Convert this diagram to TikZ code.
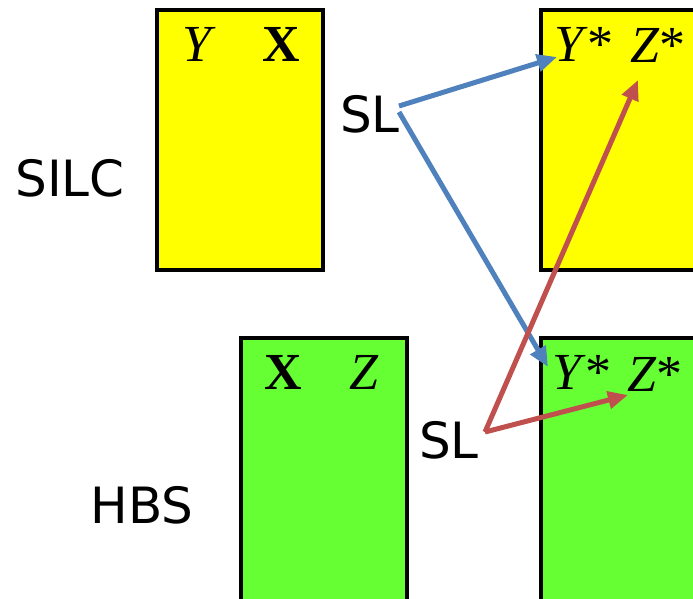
\documentclass[tikz,border=0pt]{standalone}
\usepackage{fontspec}
\setmainfont{Liberation Serif}
\newfontfamily\slfont{DejaVu Sans}
\usetikzlibrary{arrows.meta}
\definecolor{boxyellow}{HTML}{FFFF00}
\definecolor{boxgreen}{HTML}{66FF33}
\definecolor{arrblue}{HTML}{4F81BD}
\definecolor{arrred}{HTML}{C0504D}
\tikzset{
  ybox/.style={draw=black, line width=3.5pt, fill=boxyellow},
  gbox/.style={draw=black, line width=3.5pt, fill=boxgreen},
  vartext/.style={inner sep=0pt, font=\fontsize{52}{52}\selectfont},
  labtext/.style={inner sep=0pt, font=\slfont\fontsize{50}{50}\selectfont},
  conn/.style={line width=5pt, -{Triangle[length=20pt,width=17pt]}},
}
\begin{document}
\begin{tikzpicture}[x=1pt,y=-1pt]
\clip (0,0) rectangle (693,598);
\fill[white] (0,0) rectangle (693,598);
% boxes
\draw[ybox] (157,10) rectangle (323,270);
\draw[ybox] (541,10) rectangle (720,270);
\draw[gbox] (241,338) rectangle (407,620);
\draw[gbox] (541,338) rectangle (720,620);
% box contents
\node[vartext] (y1) at (199,44) {\textit{Y}};
\node[vartext] (x1) at (281,44) {\textbf{X}};
\node[vartext] (ys1) at (584,44) {\textit{Y}*};
\node[vartext] (zs1) at (658,45) {\textit{Z}*};
\node[vartext] (x2) at (283,372) {\textbf{X}};
\node[vartext] (z2) at (364,372) {\textit{Z}};
\node[vartext] (ys2) at (582,372) {\textit{Y}*};
\node[vartext] (zs2) at (655,374) {\textit{Z}*};
% labels
\node[labtext] (silc) at (70,178) {SILC};
\node[labtext] (hbs) at (142,505) {HBS};
\node[labtext] (sl1) at (370,114) {SL};
\node[labtext] (sl2) at (449,440) {SL};
% arrow endpoints
\coordinate (b1s) at (399,106);
\coordinate (b2s) at (399,112);
\coordinate (b1e) at (557,57);
\coordinate (b2e) at (548,367);
\coordinate (rs) at (485,432);
\coordinate (r1e) at (638,80);
\coordinate (r2e) at (628,395);
\draw[conn, arrblue] (b1s) -- (b1e);
\draw[conn, arrblue] (b2s) -- (b2e);
\draw[conn, arrred] (rs) -- (r1e);
\draw[conn, arrred] (rs) -- (r2e);
\end{tikzpicture}
\end{document}
